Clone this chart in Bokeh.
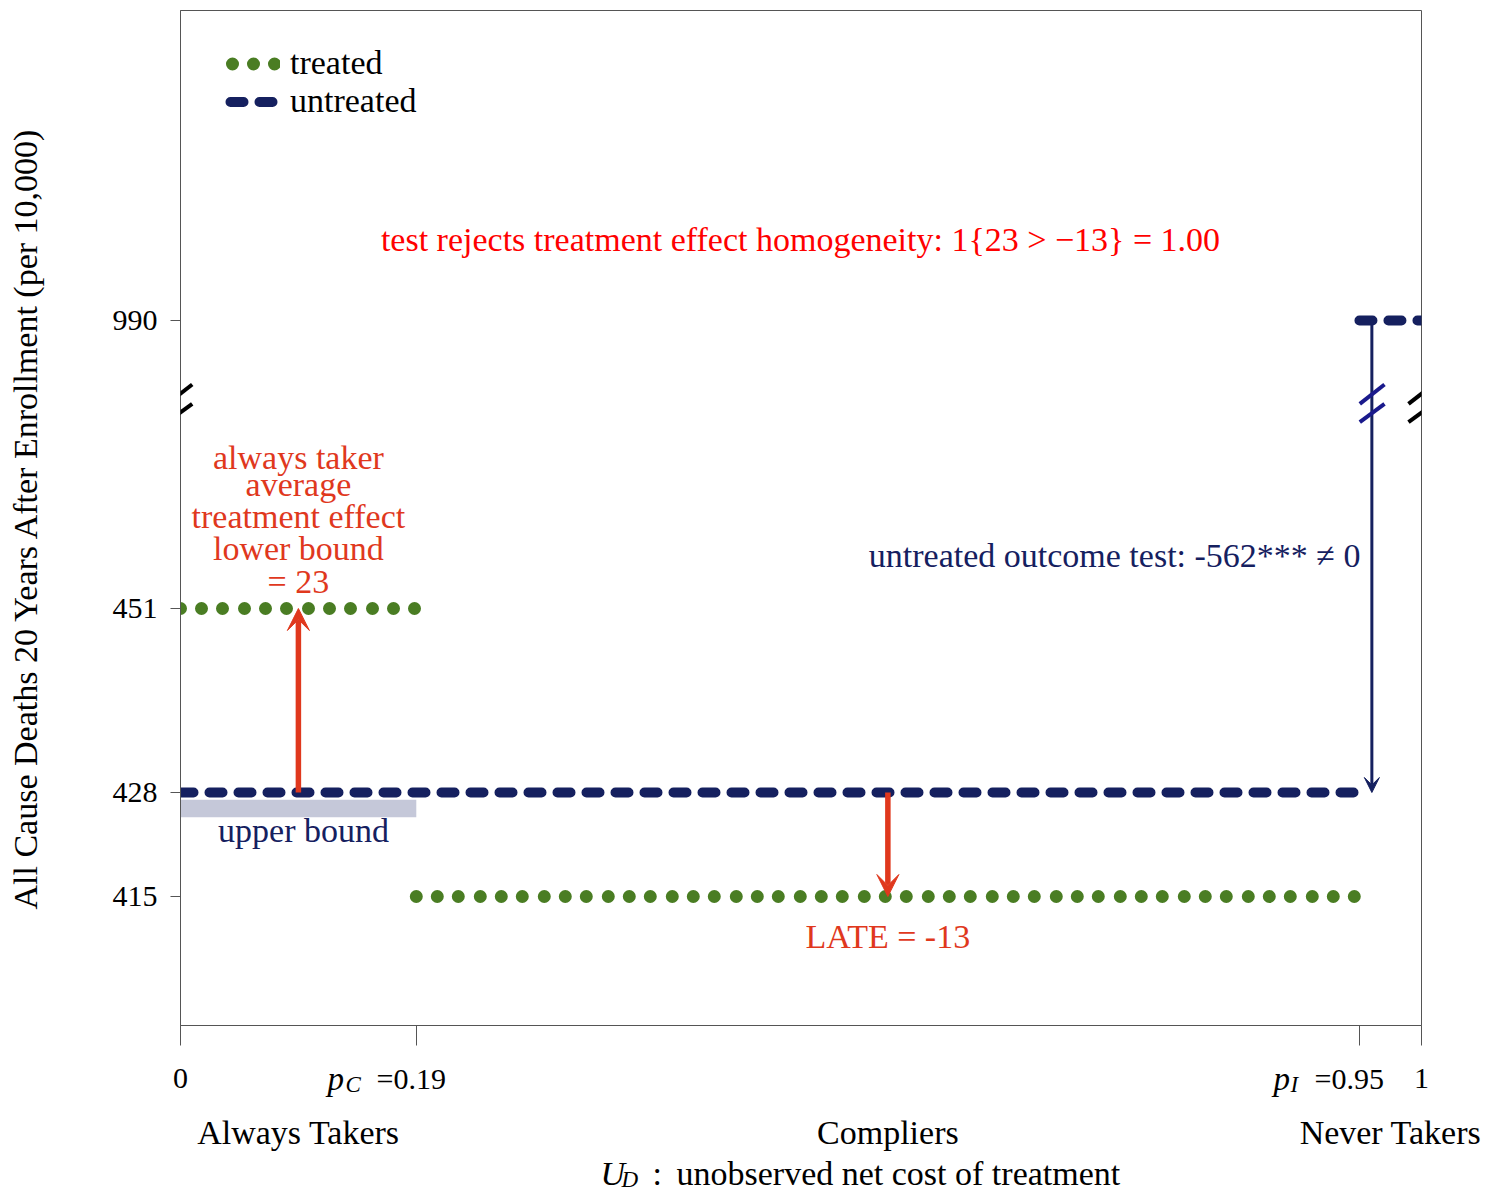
from bokeh.plotting import figure
from bokeh.models import Range1d, FixedTicker, Label, Arrow, VeeHead
from bokeh.embed import file_html
from bokeh.resources import INLINE

# ---------------- data ----------------
ud_cuts = [0.0, 0.19, 0.95, 1.0]          # 0, p_C, p_I, 1
treated_always = 451                       # always takers, treated outcome
treated_compliers = 415                    # compliers, treated outcome
untreated_compliers = 428                  # compliers, untreated outcome
untreated_never = 990                      # never takers, untreated outcome
upper_bound_band = [424.9, 427.1]          # shaded upper-bound band
y_ticks = [415, 428, 451, 990]
group_names = ["Always Takers", "Compliers", "Never Takers"]
late_value = -13
at_lower_bound = 23
nt_test_value = -562

# broken y axis: values above the break are shifted down
BREAK_SHIFT = 503
def disp(v):
    return v - BREAK_SHIFT if v > 700 else v

FONT = "Liberation Serif"
FS = "34px"      # words
FN = "30px"      # numbers
GREEN = "#4a7d23"
NAVY = "#15205f"
RED = "#e0381d"
RED2 = "#ff0000"
nan = float("nan")
BASE_FIX = 10    # label baseline correction (px)

p = figure(frame_width=1241, frame_height=1015,
           x_range=Range1d(0, 1), y_range=Range1d(398.875, 525.75),
           output_backend="svg", toolbar_location=None,
           min_border_left=180, min_border_right=64,
           min_border_top=10, min_border_bottom=25)
p.grid.visible = False
p.outline_line_color = "#555555"

# helpers for positioning annotation text (page pixel -> data)
def X(px):
    return (px - 180) / 1241.0
def Y(py):
    return 428 - (py - 792) / 8.0

# ---- band ----
p.quad(left=ud_cuts[0], right=ud_cuts[1], bottom=upper_bound_band[0], top=upper_bound_band[1],
       fill_color="#c5c8d9", line_color=None)

# ---- treated (dotted) ----
p.line([ud_cuts[0], ud_cuts[1], nan, ud_cuts[1], ud_cuts[2]],
       [treated_always, treated_always, nan, treated_compliers, treated_compliers],
       line_color=GREEN, line_width=13, line_dash="0 21 0 21 0 22", line_cap="round")

# ---- untreated (dashed) ----
p.line([ud_cuts[0], ud_cuts[2], nan, ud_cuts[2], ud_cuts[3]],
       [untreated_compliers, untreated_compliers, nan, disp(untreated_never), disp(untreated_never)],
       line_color=NAVY, line_width=10, line_dash="13 16", line_cap="round")

# legend-only renderers (no drawable data) so the swatch shows whole dots / dashes
p.line([nan], [nan], line_color=GREEN, line_width=13, line_dash="0 21", line_cap="round",
       line_dash_offset=14, legend_label="treated")
p.line([nan], [nan], line_color=NAVY, line_width=10, line_dash="13 16", line_cap="round",
       line_dash_offset=24, legend_label="untreated")

# ---- arrows ----
x_at = (ud_cuts[0] + ud_cuts[1]) / 2
x_c = (ud_cuts[1] + ud_cuts[2]) / 2
x_nt = ud_cuts[2] + 0.01
p.add_layout(Arrow(x_start=x_at, y_start=untreated_compliers, x_end=x_at, y_end=treated_always,
                   line_color=RED, line_width=5.5,
                   end=VeeHead(size=22, fill_color=RED, line_color=RED, line_width=1)))
p.add_layout(Arrow(x_start=x_c, y_start=untreated_compliers, x_end=x_c, y_end=treated_compliers,
                   line_color=RED, line_width=5.5,
                   end=VeeHead(size=22, fill_color=RED, line_color=RED, line_width=1)))
p.add_layout(Arrow(x_start=x_nt, y_start=disp(untreated_never), x_end=x_nt, y_end=untreated_compliers,
                   line_color=NAVY, line_width=3,
                   end=VeeHead(size=15, fill_color=NAVY, line_color=NAVY, line_width=1)))

# ---- break marks ----
def brk(x0, x1, color):
    for (ya, yb) in [(403.3, 384.0), (421.7, 403.3)]:
        p.add_layout(Arrow(x_start=X(x0), y_start=Y(ya), x_end=X(x1), y_end=Y(yb),
                           line_color=color, line_width=4, end=None))
brk(166.7, 191.7, "black")
brk(1408, 1433, "black")
brk(1359.3, 1384, "#1a1a8c")

# ---- axes ----
yax = p.yaxis[0]
yax.ticker = FixedTicker(ticks=[disp(v) for v in y_ticks])
yax.major_label_overrides = {disp(v): str(v) for v in y_ticks}
yax.axis_label = "All Cause Deaths 20 Years After Enrollment (per 10,000)"
yax.axis_label_text_font = FONT
yax.axis_label_text_font_size = FS
yax.axis_label_text_font_style = "normal"
yax.axis_label_text_color = "black"
yax.axis_label_standoff = 66
yax.major_label_text_font = FONT
yax.major_label_text_font_size = FN
yax.major_label_text_color = "black"
yax.major_label_standoff = 13
yax.major_tick_out = 10
yax.major_tick_in = 0
yax.minor_tick_line_color = None
yax.axis_line_color = "#555555"
yax.major_tick_line_color = "#555555"

xax = p.xaxis[0]
xax.ticker = FixedTicker(ticks=ud_cuts)
xax.major_label_text_font_size = "1px"
xax.major_label_text_alpha = 0
xax.major_label_standoff = 0
xax.major_tick_out = 20
xax.major_tick_in = 0
xax.minor_tick_line_color = None
xax.axis_line_color = "#555555"
xax.major_tick_line_color = "#555555"

# ---- text in the plot ----
def lab(fig, x, y, text, color="black", align="left", size=FS, style="normal"):
    fig.add_layout(Label(x=x, y=y, text=text, text_color=color, text_align=align,
                         text_baseline="alphabetic", text_font=FONT, text_font_size=size,
                         text_font_style=style))

def Yb(py):   # baseline row in page pixels -> data y of main plot
    return Y(py - BASE_FIX)

lab(p, X(800), Yb(249), "test rejects treatment effect homogeneity: 1{%d > \u2212%d} = 1.00"
    % (at_lower_bound, abs(late_value)), color=RED2, align="center")
lab(p, X(1360), Yb(565), "untreated outcome test: %d*** \u2260 0" % nt_test_value, color=NAVY, align="right")
for t, b in zip(["always taker", "average", "treatment effect", "lower bound", "= %d" % at_lower_bound],
                [467, 494, 526, 558, 591]):
    lab(p, x_at, Yb(b), t, color=RED, align="center")
lab(p, x_c, Yb(946), "LATE = %d" % late_value, color=RED, align="center")
lab(p, X(303), Yb(840), "upper bound", color=NAVY, align="center")

# ---- legend ----
lg = p.legend[0]
lg.location = (45, 905)
lg.glyph_width = 55
lg.glyph_height = 37
lg.label_height = 37
lg.label_standoff = 10
lg.spacing = 0
lg.padding = 0
lg.margin = 0
lg.border_line_alpha = 0
lg.background_fill_alpha = 0
lg.label_text_font = FONT
lg.label_text_font_size = FS
lg.label_text_color = "black"

# ---- strip below the plot: x tick labels, group labels, x axis title ----
TOP2 = 1050
p2 = figure(frame_width=1485, frame_height=1191 - TOP2,
            x_range=Range1d(X(0), X(1485)), y_range=Range1d(1191, TOP2),
            output_backend="svg", toolbar_location=None,
            x_axis_location=None, y_axis_location=None,
            min_border_left=0, min_border_right=0, min_border_top=0, min_border_bottom=0)
p2.outline_line_color = None
p2.grid.visible = False

def yb2(py):
    return py - BASE_FIX

lab(p2, ud_cuts[0], yb2(1088), "0", size=FN, align="center")
lab(p2, ud_cuts[3], yb2(1088), "1", size=FN, align="center")
lab(p2, X(327), yb2(1088), "p", style="italic", size="33px")
lab(p2, X(345), yb2(1094), "C", style="italic", size="23px")
lab(p2, X(376), yb2(1088), "=%.2f" % ud_cuts[1], size=FN)
lab(p2, X(1273), yb2(1088), "p", style="italic", size="33px")
lab(p2, X(1290), yb2(1094), "I", style="italic", size="23px")
lab(p2, X(1314), yb2(1088), "=%.2f" % ud_cuts[2], size=FN)

mids = [(ud_cuts[i] + ud_cuts[i + 1]) / 2 for i in range(3)]
for name, m in zip(group_names, mids):
    lab(p2, m, yb2(1142), name, align="center")

lab(p2, X(600), yb2(1183), "U", style="italic")
lab(p2, X(621), yb2(1189), "D", style="italic", size="23px")
lab(p2, X(652), yb2(1183), ":")
lab(p2, X(676), yb2(1183), "unobserved net cost of treatment")

open("out.html", "w").write(file_html((p, p2), INLINE))
